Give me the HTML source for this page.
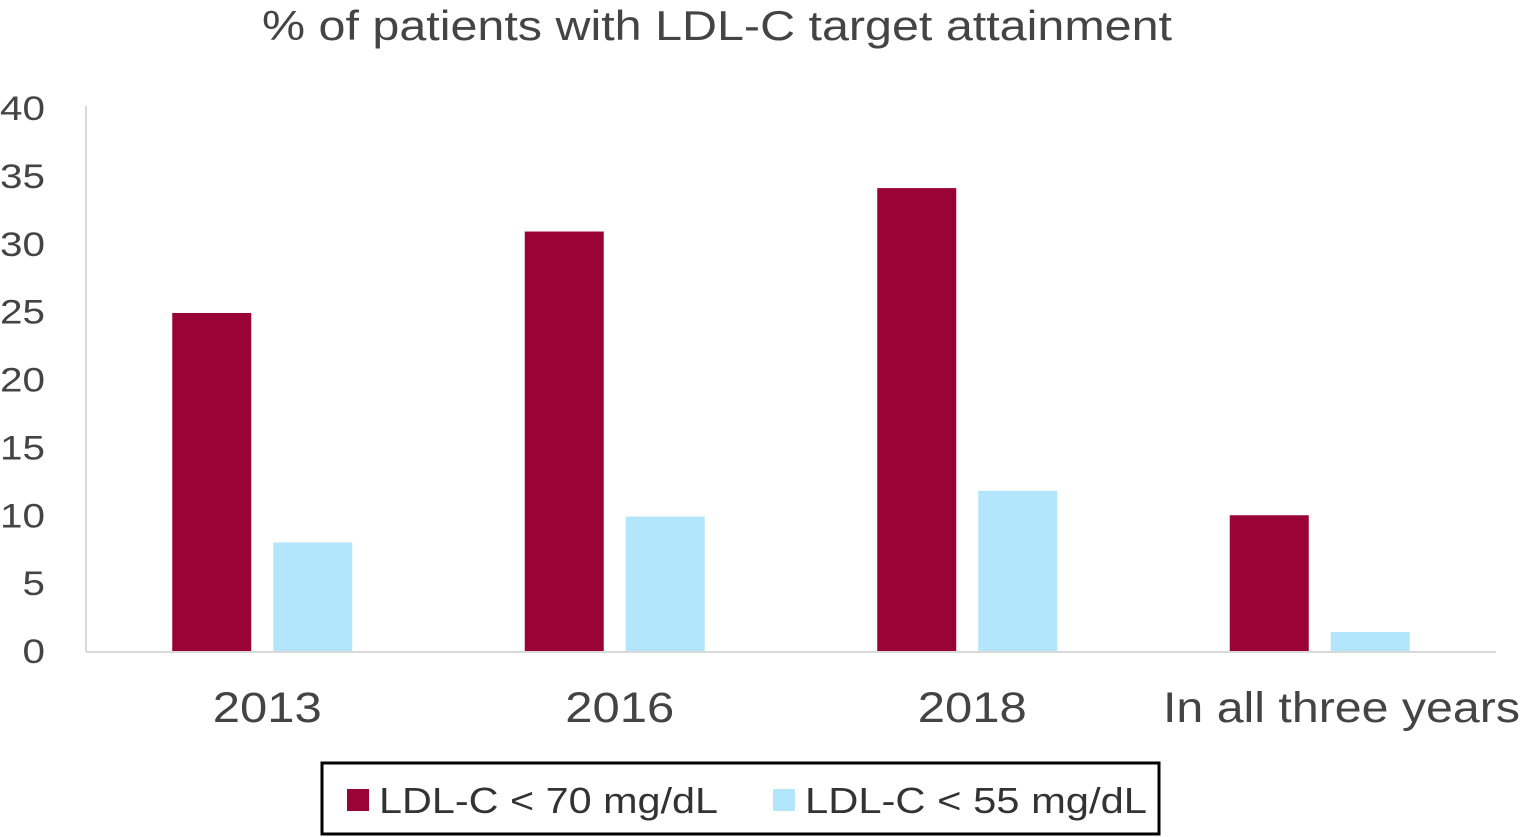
<!DOCTYPE html>
<html><head><meta charset="utf-8"><style>
body{margin:0;background:#fff;width:1522px;height:837px;overflow:hidden;font-family:"Liberation Sans",sans-serif}
svg{display:block}
</style></head><body>
<svg id="chart" width="1522" height="837" xmlns="http://www.w3.org/2000/svg">
<text x="262" y="40" font-size="42" fill="#444" textLength="910" lengthAdjust="spacingAndGlyphs">% of patients with LDL-C target attainment</text>
<g id="yticks"></g>
<line x1="86" y1="106" x2="86" y2="652" stroke="#d9d9d9" stroke-width="2"/>
<line x1="86" y1="652" x2="1496" y2="652" stroke="#d9d9d9" stroke-width="2"/>
<g id="bars"></g>
<g id="xlabels"></g>
<g>
<rect x="322" y="763" width="837" height="71" fill="#fff" stroke="#000" stroke-width="3"/>
<rect x="347" y="789" width="22" height="22" fill="#990336"/>
<text x="379" y="813" font-size="36" fill="#333" textLength="339" lengthAdjust="spacingAndGlyphs">LDL-C &lt; 70 mg/dL</text>
<rect x="773" y="789" width="22" height="22" fill="#b3e6fc"/>
<text x="805" y="813" font-size="36" fill="#333" textLength="342" lengthAdjust="spacingAndGlyphs">LDL-C &lt; 55 mg/dL</text>
</g>
</svg>
<script>
const categories=["2013","2016","2018","In all three years"];
const ldl70=[24.9,30.9,34.1,10.0];
const ldl55=[8.0,9.9,11.8,1.4];
const yTicks=[0,5,10,15,20,25,30,35,40];
const NS="http://www.w3.org/2000/svg";
const x0=86,x1=1496,yBase=651,yTop=108,yMax=40;
const y=v=>yBase-(yBase-yTop)*v/yMax;
const band=(x1-x0)/categories.length;
const cx=i=>x0+band*(i+0.5);
function mk(t,a){const e=document.createElementNS(NS,t);for(const k in a)e.setAttribute(k,a[k]);return e;}
const yt=document.getElementById('yticks');
yTicks.forEach(v=>{const s=String(v);const t=mk('text',{x:45,y:y(v)+12,'font-size':34,fill:'#444','text-anchor':'end',textLength:s.length*22.5,lengthAdjust:'spacingAndGlyphs'});


t.textContent=s;yt.appendChild(t);});
const bars=document.getElementById('bars');
categories.forEach((c,i)=>{
 const r1=mk('rect',{x:cx(i)-90,y:y(ldl70[i]),width:79,height:yBase-y(ldl70[i]),fill:'#990336'});
 
 
 bars.appendChild(r1);
 const r2=mk('rect',{x:cx(i)+11,y:y(ldl55[i]),width:79,height:yBase-y(ldl55[i]),fill:'#b3e6fc'});
 
 
 bars.appendChild(r2);
 const w=i==3?357:109;
 const t=mk('text',{x:i==3?1163:cx(i)-w/2+5,y:722,'font-size':43,fill:'#444',textLength:w,lengthAdjust:'spacingAndGlyphs'});
 
 
 t.textContent=c;document.getElementById('xlabels').appendChild(t);
});
</script>
</body></html>
